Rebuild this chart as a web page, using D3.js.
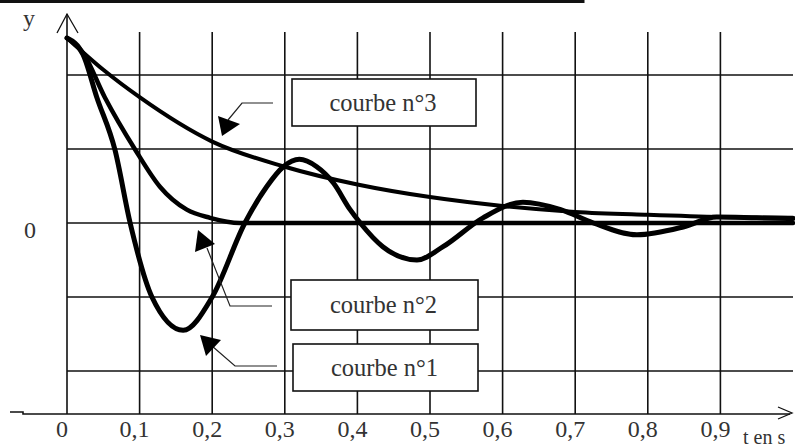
<!-- courbes amorties -->
<style>body { margin: 0; } svg { display: block; }</style>
<svg width="795" height="447"></svg>
<script src="https://d3js.org/d3.v7.min.js"></script>
<script>
const tTicks = [0, 0.1, 0.2, 0.3, 0.4, 0.5, 0.6, 0.7, 0.8, 0.9];
const tLabels = ["0", "0,1", "0,2", "0,3", "0,4", "0,5", "0,6", "0,7", "0,8", "0,9"];
const yGrid = [2, 1, 0, -1, -2];

// [t, y]
const courbe1 = [[0, 2.5], [0.022, 2.28], [0.041, 1.7], [0.066, 0.99], [0.087, 0], [0.117, -1.0],
  [0.16, -1.45], [0.2, -1.0], [0.245, 0], [0.275, 0.49], [0.298, 0.76], [0.32, 0.86],
  [0.344, 0.76], [0.367, 0.54], [0.39, 0.18], [0.404, 0], [0.435, -0.32], [0.482, -0.5],
  [0.518, -0.32], [0.573, 0.07], [0.628, 0.28], [0.68, 0.18], [0.725, 0], [0.785, -0.16],
  [0.85, -0.05], [0.895, 0.08], [0.95, 0.07], [1.0, 0.06]];
const courbe2 = [[0, 2.5], [0.022, 2.3], [0.052, 1.7], [0.094, 0.99], [0.128, 0.49],
  [0.165, 0.18], [0.197, 0.07], [0.238, 0], [0.3, 0], [0.6, 0], [1.0, 0]];
const courbe3 = [[0, 2.5], [0.05, 2.07], [0.1, 1.7], [0.2, 1.1], [0.3, 0.76], [0.4, 0.52],
  [0.5, 0.35], [0.6, 0.23], [0.7, 0.15], [0.8, 0.11], [0.9, 0.08], [1.0, 0.07]];

const svg = d3.select("svg").style("background", "#fff");
const x = d3.scaleLinear().domain([0, 1]).range([67, 793]);
const y = d3.scaleLinear().domain([-2, 2]).range([371, 75]);
const font = "'Liberation Serif', 'DejaVu Serif', serif";
const ink = "#111";

// bout de tableau en haut
svg.append("path").attr("d", "M0,1.5H583M62,0V3M313,0V3M583,0V3")
  .attr("stroke", ink).attr("stroke-width", 3).attr("fill", "none");

// quadrillage
svg.append("g").selectAll("line").data(yGrid).join("line")
  .attr("x1", x(0)).attr("x2", 793).attr("y1", d => y(d)).attr("y2", d => y(d))
  .attr("stroke", ink).attr("stroke-width", 1.6);
svg.append("g").selectAll("line").data(tTicks.slice(1)).join("line")
  .attr("x1", d => x(d)).attr("x2", d => x(d)).attr("y1", 32).attr("y2", 414)
  .attr("stroke", ink).attr("stroke-width", 1.6);

// axes
svg.append("path").attr("d", `M10,412H23V414H790M${x(0)},414V14`)
  .attr("stroke", ink).attr("stroke-width", 1.6).attr("fill", "none");
svg.append("path").attr("d", `M57,33L${x(0)},14L78,33M778,407L792,413L778,419`)
  .attr("stroke", ink).attr("stroke-width", 1.3).attr("fill", "none");

svg.append("g").selectAll("text").data(tTicks).join("text")
  .attr("x", d => x(d) - 5).attr("y", 437)
  .attr("text-anchor", "middle").attr("font-family", font).attr("font-size", 24)
  .attr("fill", "#333").text((d, i) => tLabels[i]);
svg.append("text").attr("x", 29).attr("y", 26).attr("text-anchor", "middle")
  .attr("font-family", font).attr("font-size", 24).attr("fill", "#333").text("y");
svg.append("text").attr("x", 30).attr("y", y(0) + 15).attr("text-anchor", "middle")
  .attr("font-family", font).attr("font-size", 24).attr("fill", "#333").text("0");
svg.append("text").attr("x", 743).attr("y", 444)
  .attr("font-family", font).attr("font-size", 20).attr("fill", "#333").text("t en s");

// courbes
const line = d3.line().x(d => x(d[0])).y(d => y(d[1])).curve(d3.curveMonotoneX);
[[courbe3, 4], [courbe2, 4.5], [courbe1, 5]].forEach(([c, w]) => {
  svg.append("path").datum(c).attr("d", line)
    .attr("fill", "none").attr("stroke", "#000").attr("stroke-width", w)
    .attr("stroke-linejoin", "round").attr("stroke-linecap", "round");
});

// étiquettes et flèches
const labels = [
  { text: "courbe n°3", x: 292, y: 79, w: 184, h: 47,
    arrow: "M273,103H242L228,120", tip: "222,136 218,116 240,124" },
  { text: "courbe n°2", x: 291, y: 280, w: 187, h: 50,
    arrow: "M272,306H230L207,248", tip: "198,230 195,252 215,244" },
  { text: "courbe n°1", x: 293, y: 344, w: 185, h: 47,
    arrow: "M277,366H235L212,346", tip: "200,335 206,356 221,340" }
];
labels.forEach(l => {
  svg.append("path").attr("d", l.arrow).attr("fill", "none")
    .attr("stroke", "#222").attr("stroke-width", 1.2);
  svg.append("polygon").attr("points", l.tip).attr("fill", "#000");
  svg.append("rect").attr("x", l.x).attr("y", l.y).attr("width", l.w).attr("height", l.h)
    .attr("fill", "#fff").attr("stroke", ink).attr("stroke-width", 1.6);
  svg.append("text").attr("x", l.x + l.w / 2 - 1).attr("y", l.y + l.h / 2 + 8)
    .attr("text-anchor", "middle").attr("font-family", font).attr("font-size", 24.5)
    .attr("fill", "#333").text(l.text);
});
</script>
